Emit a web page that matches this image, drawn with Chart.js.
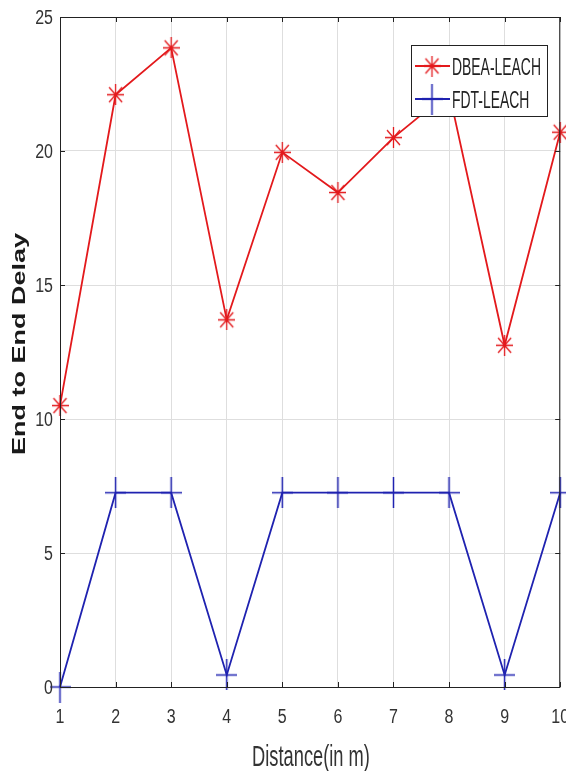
<!DOCTYPE html>
<html>
<head>
<meta charset="utf-8">
<script src="https://cdn.jsdelivr.net/npm/chart.js@4.4.1/dist/chart.umd.min.js"></script>
<style>
  html, body { margin: 0; padding: 0; background: #fff; }
  #wrap { width: 566px; height: 771px; }
</style>
</head>
<body>
<div id="wrap"><canvas id="delayChart" width="566" height="771"></canvas></div>
<script>
// Dữ liệu
const distances = [1, 2, 3, 4, 5, 6, 7, 8, 9, 10];
const dbeaLeach = [10.5, 22.1, 23.85, 13.7, 19.95, 18.45, 20.5, 22.2, 12.75, 20.7];
const fdtLeach = [0, 7.25, 7.25, 0.45, 7.25, 7.25, 7.25, 7.25, 0.45, 7.25];
const seriesNames = ['DBEA-LEACH', 'FDT-LEACH'];
const xTitle = 'Distance(in m)';
const yTitle = 'End to End Delay';

const RED = '#e3191c';
const BLUE = '#1f22b0';
const FONT = '"Liberation Sans", Arial, sans-serif';

// marker kiểu MATLAB (hơi kéo dãn theo chiều dọc)
function makeStar(color) {
  const c = document.createElement('canvas');
  c.width = 17; c.height = 21;
  const g = c.getContext('2d');
  g.strokeStyle = color; g.lineWidth = 1.3;
  g.beginPath();
  g.moveTo(8.5, 0); g.lineTo(8.5, 21);
  g.moveTo(0, 10.5); g.lineTo(17, 10.5);
  g.moveTo(2, 3); g.lineTo(15, 18);
  g.moveTo(15, 3); g.lineTo(2, 18);
  g.stroke();
  return c;
}
function makePlus(color) {
  const c = document.createElement('canvas');
  c.width = 21; c.height = 31;
  const g = c.getContext('2d');
  g.strokeStyle = color; g.lineWidth = 1.5;
  g.beginPath();
  g.moveTo(10.5, 0); g.lineTo(10.5, 31);
  g.moveTo(0, 15.5); g.lineTo(21, 15.5);
  g.stroke();
  return c;
}
const starImg = makeStar(RED);
const plusImg = makePlus(BLUE);

// chữ hẹp kiểu MATLAB: co theo chiều ngang, y là đường chân chữ
function narrowText(ctx, text, x, y, size, sx, align) {
  ctx.save();
  ctx.translate(x, y);
  ctx.scale(sx, 1);
  ctx.font = size + 'px ' + FONT;
  ctx.textAlign = align;
  ctx.textBaseline = 'alphabetic';
  ctx.fillText(text, 0, 0);
  ctx.restore();
}

// khung, vạch chia bên trong, nhãn, tiêu đề trục, chú thích
const matlabFrame = {
  id: 'matlabFrame',
  afterDraw(chart) {
    const { ctx, chartArea: a, scales } = chart;
    ctx.save();
    ctx.strokeStyle = '#222';
    ctx.lineWidth = 1;
    ctx.strokeRect(a.left + 0.5, a.top + 0.5, a.right - a.left - 1, a.bottom - a.top);
    ctx.beginPath();
    scales.x.ticks.forEach(t => {
      const px = Math.round(scales.x.getPixelForValue(t.value)) + 0.5;
      ctx.moveTo(px, a.bottom); ctx.lineTo(px, a.bottom - 5);
      ctx.moveTo(px, a.top); ctx.lineTo(px, a.top + 5);
    });
    scales.y.ticks.forEach(t => {
      const py = Math.round(scales.y.getPixelForValue(t.value)) + 0.5;
      ctx.moveTo(a.left, py); ctx.lineTo(a.left + 5, py);
      ctx.moveTo(a.right, py); ctx.lineTo(a.right - 5, py);
    });
    ctx.stroke();

    // nhãn vạch chia
    ctx.fillStyle = '#333';
    scales.x.ticks.forEach(t => {
      narrowText(ctx, String(t.value), scales.x.getPixelForValue(t.value), 723, 20, 0.8, 'center');
    });
    scales.y.ticks.forEach(t => {
      narrowText(ctx, String(t.value), 53, scales.y.getPixelForValue(t.value) + 7, 20, 0.8, 'right');
    });

    // tiêu đề trục y (in đậm, kéo dài)
    ctx.fillStyle = '#1a1a1a';
    ctx.save();
    ctx.translate(20, 344);
    ctx.rotate(-Math.PI / 2);
    ctx.scale(1.5, 1);
    ctx.font = 'bold 18px ' + FONT;
    ctx.textAlign = 'center';
    ctx.textBaseline = 'middle';
    ctx.fillText(yTitle, 0, 0);
    ctx.restore();

    // tiêu đề trục x
    ctx.fillStyle = '#333';
    narrowText(ctx, xTitle, 311, 766, 29, 0.63, 'center');

    // chú thích
    const bx = 411, by = 45, bw = 136, bh = 71;
    ctx.fillStyle = '#fff';
    ctx.fillRect(bx, by, bw, bh);
    ctx.strokeStyle = '#222';
    ctx.strokeRect(bx + 0.5, by + 0.5, bw, bh);
    const rows = [
      { name: seriesNames[0], color: RED, img: starImg, y: 66 },
      { name: seriesNames[1], color: BLUE, img: plusImg, y: 99 }
    ];
    rows.forEach(r => {
      ctx.strokeStyle = r.color;
      ctx.lineWidth = 1.8;
      ctx.beginPath();
      ctx.moveTo(415, r.y); ctx.lineTo(450, r.y);
      ctx.stroke();
      ctx.drawImage(r.img, 432 - r.img.width / 2, r.y - r.img.height / 2);
      ctx.fillStyle = '#222';
      narrowText(ctx, r.name, 452, r.y + 9, 24, 0.58, 'left');
    });
    ctx.restore();
  }
};

const ctx = document.getElementById('delayChart').getContext('2d');
new Chart(ctx, {
  type: 'line',
  data: {
    datasets: [
      {
        label: seriesNames[0],
        data: distances.map((d, i) => ({ x: d, y: dbeaLeach[i] })),
        borderColor: RED,
        borderWidth: 1.8,
        pointStyle: starImg,
        tension: 0,
        clip: false
      },
      {
        label: seriesNames[1],
        data: distances.map((d, i) => ({ x: d, y: fdtLeach[i] })),
        borderColor: BLUE,
        borderWidth: 1.8,
        pointStyle: plusImg,
        tension: 0,
        clip: false
      }
    ]
  },
  options: {
    responsive: false,
    animation: false,
    devicePixelRatio: 1,
    layout: { padding: { top: 17, right: 4, left: 0, bottom: 0 } },
    plugins: { legend: { display: false }, tooltip: { enabled: false } },
    scales: {
      x: {
        type: 'linear',
        min: 1, max: 10,
        grid: { color: '#dedede', drawTicks: false, tickLength: 0 },
        border: { display: false },
        ticks: { stepSize: 1, display: false },
        afterFit(scale) { scale.height = 84; scale.paddingLeft = 0; scale.paddingRight = 0; }
      },
      y: {
        min: 0, max: 25,
        grid: { color: '#dedede', drawTicks: false, tickLength: 0 },
        border: { display: false },
        ticks: { stepSize: 5, display: false },
        afterFit(scale) { scale.width = 60; scale.paddingTop = 0; scale.paddingBottom = 0; }
      }
    }
  },
  plugins: [matlabFrame]
});
</script>
</body>
</html>
